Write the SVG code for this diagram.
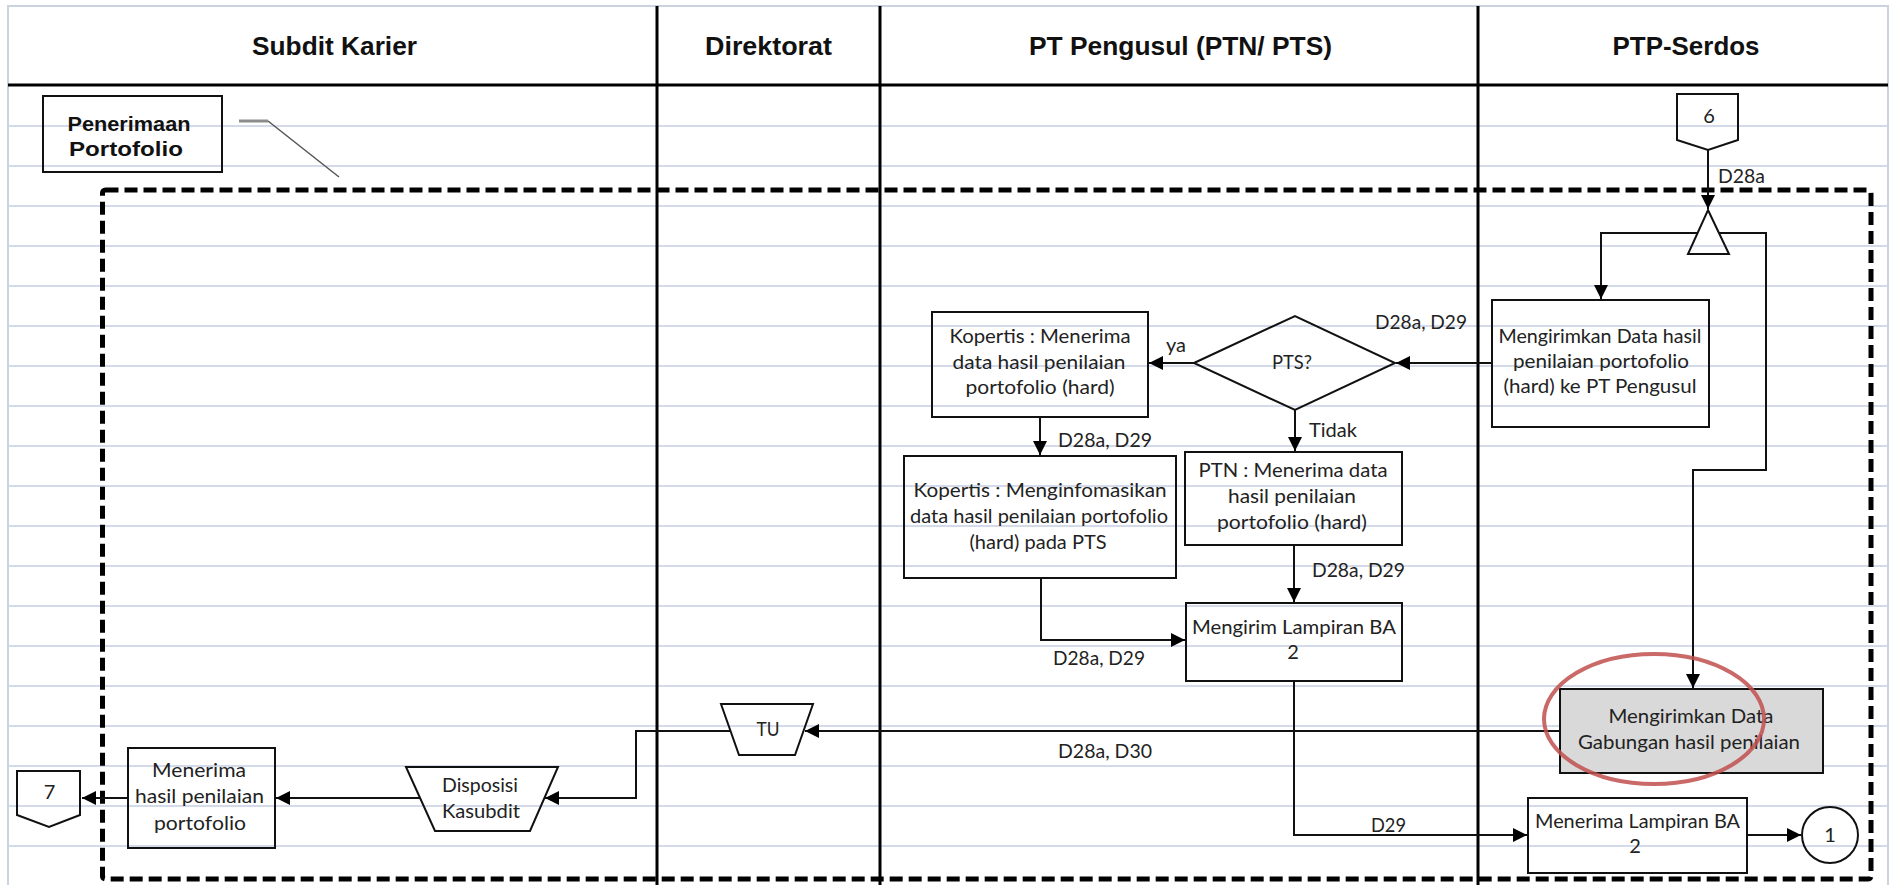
<svg xmlns="http://www.w3.org/2000/svg" width="1890" height="885" viewBox="0 0 1890 885">
  <defs>
    <marker id="arrow" markerUnits="userSpaceOnUse" markerWidth="16" markerHeight="16" refX="14" refY="7" orient="auto">
      <path d="M0,0 L14,7 L0,14 Z" fill="#000"/>
    </marker>
    <style>
      .grid { stroke: #d3dbea; stroke-width: 2; }
      .lane { stroke: #000; stroke-width: 3; }
      .hdr { font-family: "Liberation Sans", Arial, sans-serif; font-weight: bold; font-size: 26px; fill: #111; text-anchor: middle; }
      .shape { fill: none; stroke: #111; stroke-width: 2; }
      .txt { font-family: Lato, "Open Sans", sans-serif; font-size: 20px; fill: #222; text-anchor: middle; }
      .lbl { font-family: Lato, "Open Sans", sans-serif; font-size: 20px; fill: #222; }
      .conn { fill: none; stroke: #111; stroke-width: 2; }
      .conn-a { fill: none; stroke: #111; stroke-width: 2; marker-end: url(#arrow); }
    </style>
  </defs>

  <rect x="0" y="0" width="1890" height="885" fill="#fff"/>

  <!-- sheet gridlines -->
  <g id="gridlines">
    <line class="grid" x1="8" y1="126" x2="1888" y2="126"/>
    <line class="grid" x1="8" y1="166" x2="1888" y2="166"/>
    <line class="grid" x1="8" y1="206" x2="1888" y2="206"/>
    <line class="grid" x1="8" y1="246" x2="1888" y2="246"/>
    <line class="grid" x1="8" y1="286" x2="1888" y2="286"/>
    <line class="grid" x1="8" y1="326" x2="1888" y2="326"/>
    <line class="grid" x1="8" y1="366" x2="1888" y2="366"/>
    <line class="grid" x1="8" y1="406" x2="1888" y2="406"/>
    <line class="grid" x1="8" y1="446" x2="1888" y2="446"/>
    <line class="grid" x1="8" y1="486" x2="1888" y2="486"/>
    <line class="grid" x1="8" y1="526" x2="1888" y2="526"/>
    <line class="grid" x1="8" y1="566" x2="1888" y2="566"/>
    <line class="grid" x1="8" y1="606" x2="1888" y2="606"/>
    <line class="grid" x1="8" y1="646" x2="1888" y2="646"/>
    <line class="grid" x1="8" y1="686" x2="1888" y2="686"/>
    <line class="grid" x1="8" y1="726" x2="1888" y2="726"/>
    <line class="grid" x1="8" y1="766" x2="1888" y2="766"/>
    <line class="grid" x1="8" y1="806" x2="1888" y2="806"/>
    <line class="grid" x1="8" y1="846" x2="1888" y2="846"/>
  </g>

  <!-- swimlane frame -->
  <g id="swimlanes">
    <rect x="8" y="6" width="1880" height="885" fill="none" stroke="#ccd3e0" stroke-width="2"/>
    <line x1="8" y1="85" x2="1888" y2="85" stroke="#000" stroke-width="3"/>
    <line class="lane" x1="657" y1="6" x2="657" y2="885"/>
    <line class="lane" x1="880" y1="6" x2="880" y2="885"/>
    <line class="lane" x1="1478" y1="6" x2="1478" y2="885"/>
    <text class="hdr" x="334.5" y="55" textLength="165" lengthAdjust="spacingAndGlyphs">Subdit Karier</text>
    <text class="hdr" x="768.5" y="55" textLength="127" lengthAdjust="spacingAndGlyphs">Direktorat</text>
    <text class="hdr" x="1180.5" y="55" textLength="303" lengthAdjust="spacingAndGlyphs">PT Pengusul (PTN/ PTS)</text>
    <text class="hdr" x="1686" y="55" textLength="147" lengthAdjust="spacingAndGlyphs">PTP-Serdos</text>
  </g>

  <!-- process boundary with its title callout -->
  <g id="boundary">
    <rect x="102.5" y="190" width="1768.5" height="689" rx="3" fill="none" stroke="#000" stroke-width="5" stroke-dasharray="13 6"/>
  </g>
  <g id="title-callout">
    <rect class="shape" x="43" y="96" width="179" height="76"/>
    <text x="129" y="131" font-family="Liberation Sans, Arial, sans-serif" font-weight="bold" font-size="21" fill="#111" text-anchor="middle" textLength="123" lengthAdjust="spacingAndGlyphs">Penerimaan</text>
    <text x="126" y="156" font-family="Liberation Sans, Arial, sans-serif" font-weight="bold" font-size="21" fill="#111" text-anchor="middle" textLength="114" lengthAdjust="spacingAndGlyphs">Portofolio</text>
    <line x1="239" y1="121" x2="268" y2="121" stroke="#8c8c8c" stroke-width="3"/>
    <line x1="268" y1="121" x2="339" y2="177" stroke="#555" stroke-width="1.5"/>
  </g>

  <!-- connectors -->
  <g id="connectors">
    <path class="conn-a" d="M1708,150 V209"/>
    <path class="conn-a" d="M1697,233 H1601 V299"/>
    <path class="conn-a" d="M1719,233 H1766 V470 H1693 V688"/>
    <path class="conn-a" d="M1492,363 H1396"/>
    <path class="conn-a" d="M1194,363 H1149"/>
    <path class="conn-a" d="M1295,410 V451"/>
    <path class="conn-a" d="M1040,417 V455"/>
    <path class="conn-a" d="M1294,545 V602"/>
    <path class="conn-a" d="M1041,578 V640 H1185"/>
    <path class="conn-a" d="M1294,681 V835 H1527"/>
    <path class="conn-a" d="M1747,835 H1801"/>
    <path class="conn-a" d="M1560,731 H805"/>
    <path class="conn-a" d="M730,731 H636 V798 H545"/>
    <path class="conn-a" d="M420,798 H276"/>
    <path class="conn-a" d="M128,798 H82"/>

    <text class="lbl" x="1718" y="183" textLength="47" lengthAdjust="spacingAndGlyphs">D28a</text>
    <text class="lbl" x="1375" y="329" textLength="92" lengthAdjust="spacingAndGlyphs">D28a, D29</text>
    <text class="lbl" x="1166" y="352" textLength="20" lengthAdjust="spacingAndGlyphs">ya</text>
    <text class="lbl" x="1309" y="437" textLength="48" lengthAdjust="spacingAndGlyphs">Tidak</text>
    <text class="lbl" x="1058" y="447" textLength="94" lengthAdjust="spacingAndGlyphs">D28a, D29</text>
    <text class="lbl" x="1312" y="577" textLength="93" lengthAdjust="spacingAndGlyphs">D28a, D29</text>
    <text class="lbl" x="1053" y="665" textLength="92" lengthAdjust="spacingAndGlyphs">D28a, D29</text>
    <text class="lbl" x="1058" y="758" textLength="94" lengthAdjust="spacingAndGlyphs">D28a, D30</text>
    <text class="lbl" x="1371" y="832" textLength="35" lengthAdjust="spacingAndGlyphs">D29</text>
  </g>

  <!-- PTP-Serdos lane -->
  <g id="offpage-6">
    <path class="shape" d="M1677,94 H1738 V140 L1708,150 L1677,140 Z"/>
    <text class="txt" x="1709" y="123">6</text>
  </g>
  <g id="extract">
    <path class="shape" d="M1708,210 L1729,254 H1688 Z"/>
  </g>
  <g id="kirim-data-hasil">
    <rect class="shape" x="1492" y="300" width="217" height="127"/>
    <text class="txt" x="1600" y="343" textLength="203" lengthAdjust="spacingAndGlyphs">Mengirimkan Data hasil</text>
    <text class="txt" x="1601" y="368" textLength="176" lengthAdjust="spacingAndGlyphs">penilaian portofolio</text>
    <text class="txt" x="1600" y="393" textLength="193" lengthAdjust="spacingAndGlyphs">(hard) ke PT Pengusul</text>
  </g>
  <g id="kirim-data-gabungan">
    <rect x="1560" y="689" width="263" height="84" fill="#d9d9d9" stroke="#111" stroke-width="2"/>
    <text class="txt" x="1691" y="723" textLength="165" lengthAdjust="spacingAndGlyphs">Mengirimkan Data</text>
    <text class="txt" x="1689" y="749" textLength="222" lengthAdjust="spacingAndGlyphs">Gabungan hasil penilaian</text>
  </g>
  <g id="highlight">
    <ellipse cx="1654" cy="719" rx="110" ry="65" fill="none" stroke="#c0504d" stroke-width="4" stroke-opacity="0.85"/>
  </g>
  <g id="terima-lampiran">
    <rect class="shape" x="1528" y="798" width="219" height="75"/>
    <text class="txt" x="1637.5" y="828" textLength="205" lengthAdjust="spacingAndGlyphs">Menerima Lampiran BA</text>
    <text class="txt" x="1635" y="853">2</text>
  </g>
  <g id="connector-1">
    <circle class="shape" cx="1830" cy="835" r="28"/>
    <text class="txt" x="1830" y="842">1</text>
  </g>

  <!-- PT Pengusul lane -->
  <g id="decision-pts">
    <path class="shape" d="M1194,363 L1295,316 L1395,363 L1295,410 Z"/>
    <text class="txt" x="1292" y="369" textLength="40" lengthAdjust="spacingAndGlyphs">PTS?</text>
  </g>
  <g id="kopertis-terima">
    <rect class="shape" x="932" y="312" width="216" height="105"/>
    <text class="txt" x="1040" y="343" textLength="181" lengthAdjust="spacingAndGlyphs">Kopertis : Menerima</text>
    <text class="txt" x="1039" y="369" textLength="173" lengthAdjust="spacingAndGlyphs">data hasil penilaian</text>
    <text class="txt" x="1040" y="394" textLength="149" lengthAdjust="spacingAndGlyphs">portofolio (hard)</text>
  </g>
  <g id="kopertis-informasi">
    <rect class="shape" x="904" y="456" width="272" height="122"/>
    <text class="txt" x="1040" y="497" textLength="253" lengthAdjust="spacingAndGlyphs">Kopertis : Menginfomasikan</text>
    <text class="txt" x="1039" y="523" textLength="258" lengthAdjust="spacingAndGlyphs">data hasil penilaian portofolio</text>
    <text class="txt" x="1038" y="549" textLength="137" lengthAdjust="spacingAndGlyphs">(hard) pada PTS</text>
  </g>
  <g id="ptn-terima">
    <rect class="shape" x="1185" y="452" width="217" height="93"/>
    <text class="txt" x="1293" y="477" textLength="189" lengthAdjust="spacingAndGlyphs">PTN : Menerima data</text>
    <text class="txt" x="1292" y="503" textLength="128" lengthAdjust="spacingAndGlyphs">hasil penilaian</text>
    <text class="txt" x="1292" y="529" textLength="150" lengthAdjust="spacingAndGlyphs">portofolio (hard)</text>
  </g>
  <g id="kirim-lampiran">
    <rect class="shape" x="1186" y="603" width="216" height="78"/>
    <text class="txt" x="1294" y="634" textLength="204" lengthAdjust="spacingAndGlyphs">Mengirim Lampiran BA</text>
    <text class="txt" x="1293" y="659">2</text>
  </g>

  <!-- Direktorat lane -->
  <g id="tu">
    <path class="shape" d="M721,704 H813 L795,755 H739 Z"/>
    <text class="txt" x="768" y="736" textLength="23" lengthAdjust="spacingAndGlyphs">TU</text>
  </g>

  <!-- Subdit Karier lane -->
  <g id="disposisi">
    <path class="shape" d="M406,767 H558 L530,831 H435 Z"/>
    <text class="txt" x="480" y="792" textLength="76" lengthAdjust="spacingAndGlyphs">Disposisi</text>
    <text class="txt" x="481" y="818" textLength="78" lengthAdjust="spacingAndGlyphs">Kasubdit</text>
  </g>
  <g id="terima-hasil">
    <rect class="shape" x="128" y="748" width="147" height="100"/>
    <text class="txt" x="199" y="777" textLength="94" lengthAdjust="spacingAndGlyphs">Menerima</text>
    <text class="txt" x="199.5" y="803" textLength="129" lengthAdjust="spacingAndGlyphs">hasil penilaian</text>
    <text class="txt" x="200" y="830" textLength="92" lengthAdjust="spacingAndGlyphs">portofolio</text>
  </g>
  <g id="offpage-7">
    <path class="shape" d="M17,771 H80 V815 L49,827 L17,815 Z"/>
    <text class="txt" x="49.5" y="799">7</text>
  </g>
</svg>
